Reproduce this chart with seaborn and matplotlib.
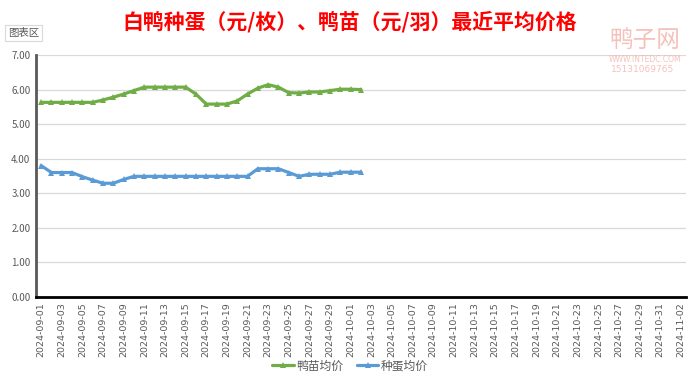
import matplotlib
matplotlib.use("Agg")
import matplotlib.pyplot as plt
import seaborn as sns
import pandas as pd
import numpy as np

# ---- data ----
all_dates = [d.strftime("%Y-%m-%d") for d in pd.date_range("2024-09-01", "2024-11-02")]
data_dates = all_dates[:32]
duckling = [5.63, 5.63, 5.63, 5.63, 5.63, 5.63, 5.70, 5.78, 5.87, 5.97,
            6.07, 6.07, 6.07, 6.07, 6.07, 5.87, 5.58, 5.58, 5.58, 5.67,
            5.87, 6.04, 6.14, 6.07, 5.91, 5.90, 5.93, 5.93, 5.97, 6.01,
            6.01, 6.00]
eggs = [3.80, 3.60, 3.60, 3.60, 3.48, 3.38, 3.29, 3.29, 3.40, 3.49,
        3.49, 3.49, 3.49, 3.49, 3.49, 3.49, 3.49, 3.49, 3.49, 3.49,
        3.49, 3.71, 3.71, 3.71, 3.60, 3.49, 3.55, 3.55, 3.55, 3.61,
        3.61, 3.61]
series_names = ["鸭苗均价", "种蛋均价"]
colors = ["#70AD47", "#5B9BD5"]
y_ticks = [0, 1, 2, 3, 4, 5, 6, 7]

sns.set_theme(style="white")
plt.rcParams["font.family"] = ["Noto Sans CJK SC", "DejaVu Sans"]

df = pd.DataFrame({
    "idx": list(range(len(data_dates))) * 2,
    "value": duckling + eggs,
    "series": [series_names[0]] * len(duckling) + [series_names[1]] * len(eggs),
})

fig = plt.figure(figsize=(7.0, 3.83), dpi=100)
ax = fig.add_axes([36 / 700, 1 - 297 / 383, 650 / 700, 242 / 383])

sns.lineplot(data=df, x="idx", y="value", hue="series", hue_order=series_names,
             palette=colors, marker="^", markersize=5, markeredgewidth=0,
             linewidth=2.3, ax=ax, legend=False)

ax.set_xlim(-0.5, len(all_dates) - 0.5)
ax.set_ylim(0, 7)
ax.set_yticks(y_ticks)
ax.set_yticklabels([f"{v:.2f}" for v in y_ticks], fontsize=7, color="#595959")
tick_pos = list(range(0, len(all_dates), 2))
ax.set_xticks(tick_pos)
ax.set_xticklabels([all_dates[i] for i in tick_pos], rotation=90, fontsize=6.8,
                   color="#595959", family=["DejaVu Sans"])
ax.tick_params(axis="both", length=0, pad=4)
ax.set_xlabel("")
ax.set_ylabel("")
ax.grid(axis="y", color="#D9D9D9", linewidth=0.9)
ax.set_axisbelow(True)
for s in ["top", "right"]:
    ax.spines[s].set_visible(False)
ax.spines["left"].set_color("#595959")
ax.spines["left"].set_linewidth(2.0)
ax.spines["bottom"].set_color("#000000")
ax.spines["bottom"].set_linewidth(2.0)

# title
fig.text(0.5, 1 - 22 / 383, "白鸭种蛋（元/枚）、鸭苗（元/羽）最近平均价格",
         ha="center", va="center", fontsize=15, fontweight="bold", color="#FF0000")

# chart-area tag
fig.text(8 / 700, 1 - 33 / 383, "图表区", ha="left", va="center", fontsize=7.5,
         color="#595959",
         bbox=dict(boxstyle="square,pad=0.25", fc="white", ec="#D9D9D9", lw=0.8))

# watermark
fig.text(645 / 700, 1 - 40 / 383, "鸭子网", ha="center", va="center", fontsize=17,
         color="#F4B6B0", alpha=0.85)
fig.text(645 / 700, 1 - 59 / 383, "WWW.INTEDC.COM", ha="center", va="center",
         fontsize=5.5, color="#F4B6B0", alpha=0.85, family=["DejaVu Sans"])
fig.text(643 / 700, 1 - 70 / 383, "15131069765", ha="center", va="center",
         fontsize=6.5, color="#F4B6B0", alpha=0.85, family=["DejaVu Sans"])

# legend
from matplotlib.lines import Line2D
handles = [Line2D([0], [0], color=c, marker="^", markersize=5, markeredgewidth=0,
                  linewidth=2.3) for c in colors]
fig.legend(handles, series_names, loc="center", bbox_to_anchor=(0.5, 1 - 366 / 383),
           ncol=2, frameon=False, fontsize=8.5, handlelength=1.8, columnspacing=1.2,
           labelcolor="#595959", handletextpad=0.2)

fig.savefig("out.png", dpi=100)
